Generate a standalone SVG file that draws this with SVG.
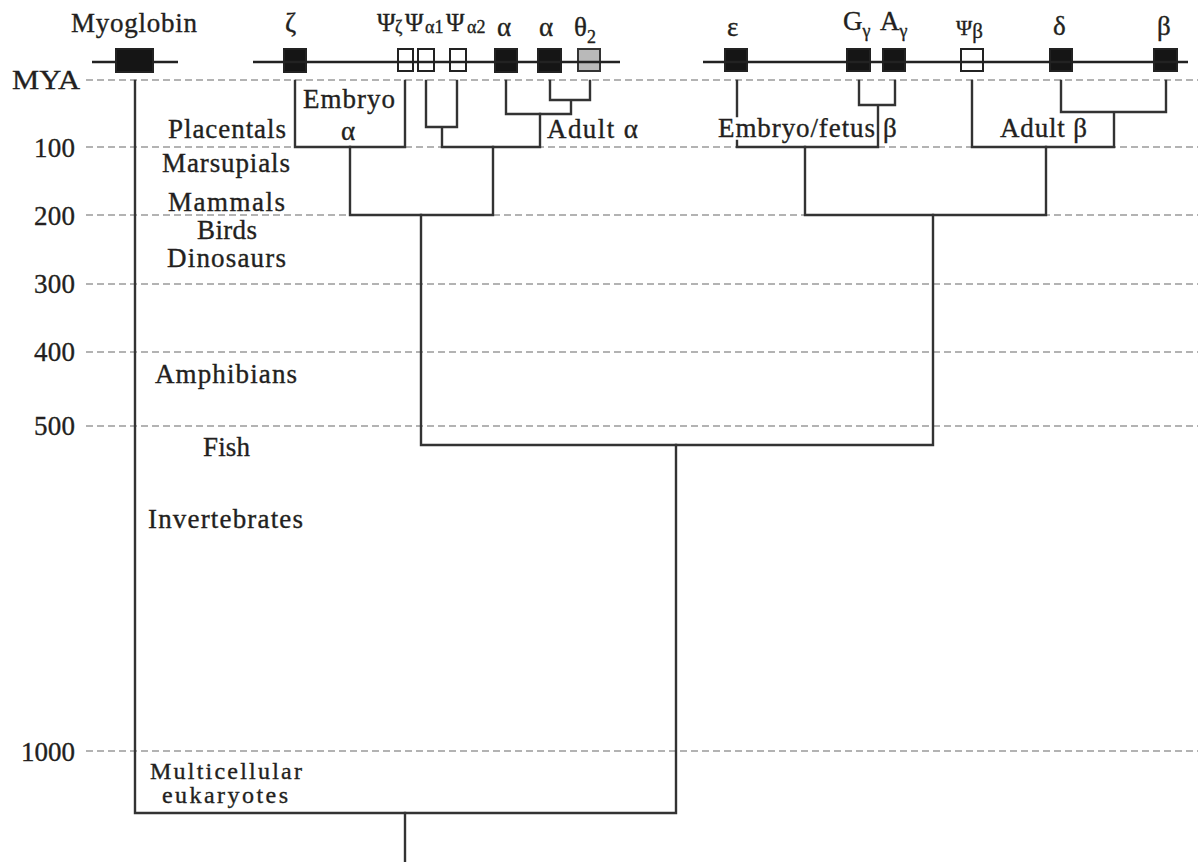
<svg xmlns="http://www.w3.org/2000/svg" width="1198" height="862" viewBox="0 0 1198 862">
<style>
text{font-family:"Liberation Serif","Times New Roman",serif;fill:#231f20;font-size:27px;stroke:#231f20;stroke-width:0.35}
.sub{font-size:18px}
.psi{font-size:25px}
.small{font-size:24px}
.dash{stroke:#9a9a9a;stroke-width:1.6;stroke-dasharray:7 4;fill:none}
.chrom{stroke:#222;stroke-width:2.4;fill:none}
.gene{fill:#151515;stroke:#222;stroke-width:2}
.pseudo{fill:#fff;stroke:#222;stroke-width:2}
.grey{fill:#b9b9b9;stroke:#333;stroke-width:2}
.tree{stroke:#333;stroke-width:2.4;fill:none;stroke-linecap:square}
</style>
<rect width="1198" height="862" fill="#fff"/>
<g id="axis">
<path class="dash" d="M86 80H1198M86 147H1198M86 215H1198M86 284H1198M86 352H1198M86 426H1198M86 751H1198"/>
<text x="12" y="89" textLength="68" lengthAdjust="spacingAndGlyphs">MYA</text>
<text x="34" y="157" textLength="41">100</text>
<text x="34" y="225" textLength="41">200</text>
<text x="34" y="293" textLength="41">300</text>
<text x="34" y="361" textLength="41">400</text>
<text x="34" y="435" textLength="41">500</text>
<text x="21" y="761" textLength="54">1000</text>
</g>
<g id="taxa">
<text x="168" y="138" textLength="118">Placentals</text>
<text x="162" y="172" textLength="128">Marsupials</text>
<text x="168" y="211" textLength="117">Mammals</text>
<text x="197" y="239" textLength="60">Birds</text>
<text x="167" y="267" textLength="119">Dinosaurs</text>
<text x="155" y="383" textLength="142">Amphibians</text>
<text x="203" y="456" textLength="47">Fish</text>
<text x="148" y="528" textLength="155">Invertebrates</text>
<text class="small" x="150" y="779" textLength="152">Multicellular</text>
<text class="small" x="162" y="803" textLength="126">eukaryotes</text>
</g>
<g id="myoglobin">
<path class="chrom" d="M92 62H178"/>
<rect class="gene" x="116" y="49" width="37" height="23"/>
<text x="71" y="32" textLength="126">Myoglobin</text>
</g>
<g id="alpha-cluster">
<rect class="gene" x="284" y="49" width="22" height="23"/>
<rect class="pseudo" x="398" y="49" width="15" height="22"/>
<rect class="pseudo" x="418" y="49" width="16" height="22"/>
<rect class="pseudo" x="450" y="49" width="16" height="22"/>
<rect class="gene" x="495" y="49" width="22" height="23"/>
<rect class="gene" x="538" y="49" width="23" height="23"/>
<rect class="grey" x="578" y="49" width="22" height="22"/>
<path class="chrom" d="M253 62H620"/>
<text x="285" y="32">ζ</text>
<text y="31" class="psi"><tspan x="377">Ψ</tspan><tspan class="sub" x="395" y="33">ζ</tspan><tspan x="405" y="31">Ψ</tspan><tspan class="sub" x="425" y="33">α1</tspan><tspan x="446" y="31">Ψ</tspan><tspan class="sub" x="467" y="33">α2</tspan></text>
<text x="497" y="36">α</text>
<text x="539" y="36">α</text>
<text x="574" y="36">θ<tspan class="sub" dy="7">2</tspan></text>
<text x="303" y="108" textLength="92">Embryo</text>
<text x="341" y="140">α</text>
<text x="547" y="138" textLength="91">Adult α</text>
</g>
<g id="beta-cluster">
<rect class="gene" x="725" y="49" width="22" height="22"/>
<rect class="gene" x="847" y="49" width="23" height="22"/>
<rect class="gene" x="883" y="49" width="22" height="22"/>
<rect class="pseudo" x="961" y="49" width="22" height="22"/>
<rect class="gene" x="1050" y="49" width="22" height="22"/>
<rect class="gene" x="1154" y="49" width="23" height="22"/>
<path class="chrom" d="M703 62H1188"/>
<text x="727" y="36">ε</text>
<text x="843" y="30">G<tspan class="sub" dy="7">γ</tspan></text>
<text x="880" y="30">A<tspan class="sub" dy="7">γ</tspan></text>
<text x="956" y="35" style="font-size:22px">Ψ<tspan style="font-size:21px" dy="3">β</tspan></text>
<text x="1053" y="35">δ</text>
<text x="1157" y="35">β</text>
<text x="718" y="137" textLength="157">Embryo/fetus</text>
<text x="883" y="137">β</text>
<text x="1000" y="137" textLength="87">Adult β</text>
</g>
<g id="connectors">
<path class="tree" d="M135 81V813H676V445"/>
<path class="tree" d="M405 813V862"/>
<path class="tree" d="M421 215V445H933V215"/>
<path class="tree" d="M350 147V215H493V147"/>
<path class="tree" d="M295 81V147H405V81"/>
<path class="tree" d="M426 81V127H457V81M442 127V147H540V114"/>
<path class="tree" d="M506 81V114H571M550 81V100H590V81M571 100V114"/>
<path class="tree" d="M737 81V116M737 141V147H878V105M859 81V105H895V81"/>
<path class="tree" d="M805 147V215H1046V147"/>
<path class="tree" d="M972 81V147H1114V112M1061 81V112H1166V81"/>
</g>
</svg>
